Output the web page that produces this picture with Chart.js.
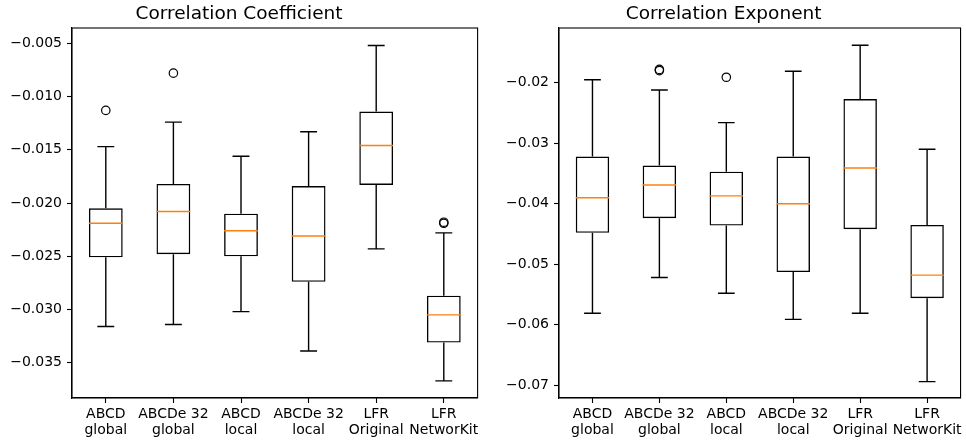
<!DOCTYPE html>
<html>
<head>
<meta charset="utf-8">
<script src="https://cdn.jsdelivr.net/npm/chart.js@4/dist/chart.umd.min.js"></script>
<style>
  body { margin: 0; background: #fff; }
  #wrap { position: relative; width: 966px; height: 440px; }
  canvas { position: absolute; top: 0; }
</style>
</head>
<body>
<div id="wrap">
  <canvas id="coefChart" width="483" height="440" style="left:0"></canvas>
  <canvas id="expChart" width="483" height="440" style="left:483px"></canvas>
</div>
<script>
// box plot data
const categories = [["ABCD", "global"], ["ABCDe 32", "global"], ["ABCD", "local"],
  ["ABCDe 32", "local"], ["LFR", "Original"], ["LFR", "NetworKit"]];

// Correlation Coefficient
const coefLow  = [-0.0316, -0.0314, -0.0302, -0.0339, -0.0243, -0.0367];
const coefQ1   = [-0.0251, -0.0248, -0.0250, -0.0274, -0.0183, -0.0331];
const coefMed  = [-0.0219, -0.0208, -0.0226, -0.0231, -0.0146, -0.0305];
const coefQ3   = [-0.0205, -0.0182, -0.0210, -0.0184, -0.0114, -0.0287];
const coefHigh = [-0.0147, -0.0124, -0.0156, -0.0133, -0.0052, -0.0228];
const coefOutA = [-0.0113, -0.0078, null, null, null, -0.0218];
const coefOutB = [null, null, null, null, null, -0.0219];
const coefTicks = [-0.035, -0.030, -0.025, -0.020, -0.015, -0.010, -0.005];

// Correlation Exponent
const expLow  = [-0.0581, -0.0522, -0.0548, -0.0591, -0.0581, -0.0694];
const expQ1   = [-0.0448, -0.0424, -0.0436, -0.0513, -0.0442, -0.0556];
const expMed  = [-0.0390, -0.0369, -0.0387, -0.0400, -0.0341, -0.0518];
const expQ3   = [-0.0322, -0.0337, -0.0347, -0.0322, -0.0227, -0.0435];
const expHigh = [-0.0195, -0.0212, -0.0266, -0.0181, -0.0138, -0.0310];
const expOutA = [null, -0.0178, -0.0191, null, null, null];
const expOutB = [null, -0.0180, null, null, null, null];
const expTicks = [-0.07, -0.06, -0.05, -0.04, -0.03, -0.02];

Chart.defaults.font.family = "'DejaVu Sans', sans-serif";
Chart.defaults.color = "#000";

// whiskers, caps, medians and the frame, drawn through the chart's scales
const boxPlugin = {
  id: "boxExtras",
  afterDatasetsDraw(chart, args, opts) {
    const ctx = chart.ctx;
    const x = chart.scales.x, y = chart.scales.y;
    const bars = chart.getDatasetMeta(0).data;
    ctx.save();
    ctx.lineWidth = 1.4;
    ctx.lineCap = "butt";
    opts.med.forEach((m, i) => {
      const cx = x.getPixelForValue(i);
      const half = bars[i].width / 2;
      const cap = half / 2;
      const yLo = y.getPixelForValue(opts.low[i]);
      const yQ1 = y.getPixelForValue(opts.q1[i]);
      const yQ3 = y.getPixelForValue(opts.q3[i]);
      const yHi = y.getPixelForValue(opts.high[i]);
      ctx.strokeStyle = "#000";
      ctx.beginPath();
      ctx.moveTo(cx, yQ1); ctx.lineTo(cx, yLo);
      ctx.moveTo(cx, yQ3); ctx.lineTo(cx, yHi);
      ctx.moveTo(cx - cap, yLo); ctx.lineTo(cx + cap, yLo);
      ctx.moveTo(cx - cap, yHi); ctx.lineTo(cx + cap, yHi);
      ctx.stroke();
      const yM = y.getPixelForValue(m);
      ctx.strokeStyle = "#ff7f0e";
      ctx.beginPath();
      ctx.moveTo(cx - half, yM); ctx.lineTo(cx + half, yM);
      ctx.stroke();
    });
    const a = chart.chartArea;
    ctx.strokeStyle = "#000";
    ctx.lineWidth = 1.1;
    ctx.strokeRect(a.left, a.top, a.right - a.left, a.bottom - a.top);
    ctx.restore();
  }
};

function fmt(v, digits) {
  return v.toFixed(digits).replace("-", "\u2212");
}

function makeBoxChart(id, title, stats, outA, outB, ticks, yMin, yMax, digits, yWidth, padRight) {
  const ctx = document.getElementById(id).getContext("2d");
  const outlierStyle = {
    type: "line",
    showLine: false,
    pointStyle: "circle",
    pointRadius: 4.2,
    pointBorderWidth: 1.2,
    pointBorderColor: "#000",
    pointBackgroundColor: "rgba(0,0,0,0)"
  };
  return new Chart(ctx, {
    type: "bar",
    data: {
      labels: categories,
      datasets: [{
        data: stats.q1.map((v, i) => [v, stats.q3[i]]),
        backgroundColor: "rgba(0,0,0,0)",
        borderColor: "#000",
        borderWidth: 1.4,
        borderSkipped: false,
        barPercentage: 0.5,
        categoryPercentage: 1
      },
      Object.assign({ data: outA }, outlierStyle),
      Object.assign({ data: outB }, outlierStyle)]
    },
    options: {
      responsive: false,
      animation: false,
      devicePixelRatio: 1,
      layout: { padding: { left: 0, right: padRight, top: 0, bottom: 0 } },
      plugins: {
        legend: { display: false },
        tooltip: { enabled: false },
        title: {
          display: true,
          text: title,
          color: "#000",
          font: { size: 18.5, weight: "normal", lineHeight: 1.2 },
          padding: { top: 3, bottom: 2.8 }
        },
        boxExtras: stats
      },
      scales: {
        x: {
          offset: true,
          grid: { display: true, offset: false, drawOnChartArea: false, drawTicks: true, tickLength: 5, tickColor: "#000", tickWidth: 1.1 },
          border: { display: true, color: "#000", width: 1.1 },
          ticks: { font: { size: 14, lineHeight: 1.1 }, padding: 4, maxRotation: 0, autoSkip: false },
          afterFit(scale) { scale.height = 42; }
        },
        y: {
          min: yMin,
          max: yMax,
          grid: { display: true, drawOnChartArea: false, drawTicks: true, tickLength: 5, tickColor: "#000", tickWidth: 1.1 },
          border: { display: true, color: "#000", width: 1.1 },
          ticks: { font: { size: 14 }, padding: 5, callback: v => fmt(v, digits) },
          afterBuildTicks(scale) { scale.ticks = ticks.map(v => ({ value: v })); },
          afterFit(scale) { scale.width = yWidth; }
        }
      }
    },
    plugins: [boxPlugin]
  });
}

makeBoxChart("coefChart", "Correlation Coefficient",
  { low: coefLow, q1: coefQ1, med: coefMed, q3: coefQ3, high: coefHigh },
  coefOutA, coefOutB, coefTicks, -0.03831, -0.00356, 3, 72, 5);

makeBoxChart("expChart", "Correlation Exponent",
  { low: expLow, q1: expQ1, med: expMed, q3: expQ3, high: expHigh },
  expOutA, expOutB, expTicks, -0.0721, -0.01096, 2, 76, 1.7);
</script>
</body>
</html>
